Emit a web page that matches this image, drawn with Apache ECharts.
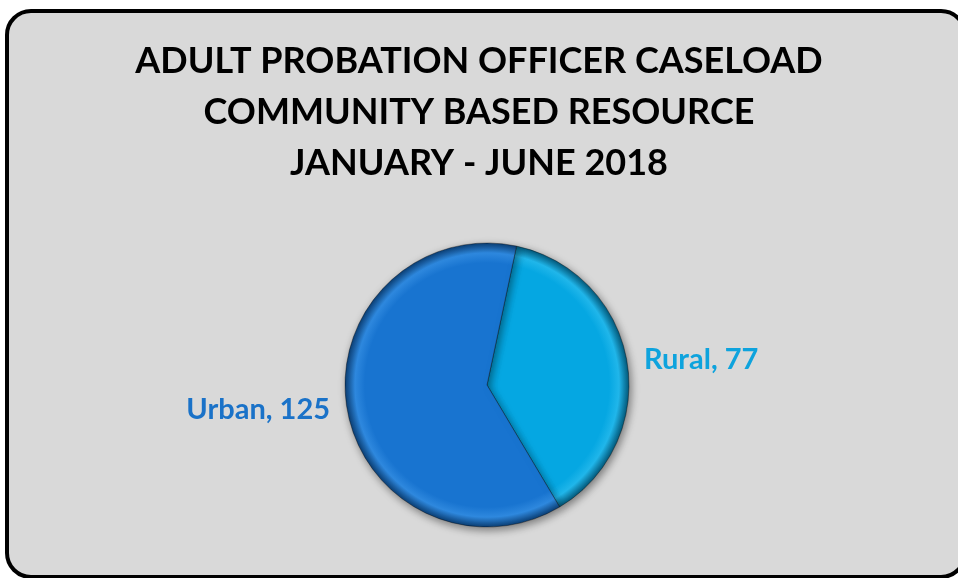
<!DOCTYPE html>
<html><head><meta charset="utf-8">
<script src="https://cdn.jsdelivr.net/npm/echarts@6/dist/echarts.min.js"></script>
<style>html,body{margin:0;padding:0;background:#fff;}#c{width:958px;height:578px;}</style>
</head><body><div id="c"></div>
<script>
const titleLines = ['ADULT PROBATION OFFICER CASELOAD', 'COMMUNITY BASED RESOURCE', 'JANUARY - JUNE 2018'];
const categories = ['Rural', 'Urban'];
const values = [77, 125];
const labelColors = ['#0ea3dd', '#1a72c8'];

const cx = 487, cy = 385, R = 142;
function grad(base, dark, light) {
  return {type: 'radial', x: cx, y: cy, r: R, global: true,
    colorStops: [{offset: 0, color: base}, {offset: 0.86, color: base}, {offset: 0.93, color: light}, {offset: 1, color: dark}]};
}
const shades = [['#05a7e2', '#03587a', '#20b6ea'], ['#1874d0', '#0b3e74', '#2e88de']];

const chart = echarts.init(document.getElementById('c'));
chart.setOption({
  backgroundColor: '#ffffff',
  animation: false,
  graphic: [{
    type: 'rect', z: -10,
    shape: {x: 7, y: 11, width: 958, height: 566, r: 24},
    style: {fill: '#d9d9d9', stroke: '#000', lineWidth: 4}
  }],
  title: {
    text: titleLines.join('\n'),
    left: 'center', top: 31,
    textStyle: {fontFamily: 'Lato', fontWeight: 'bold', fontSize: 36, color: '#000', lineHeight: 51}
  },
  series: [{
    type: 'pie',
    center: [cx, cy],
    radius: R,
    startAngle: 78,
    clockwise: true,
    label: {
      show: true, position: 'outside',
      formatter: p => p.name + ', ' + p.value,
      fontFamily: 'Lato', fontWeight: 'bold', fontSize: 29
    },
    labelLine: {show: false, length: 12, length2: 0},
    itemStyle: {shadowBlur: 8, shadowColor: 'rgba(0,0,0,0.45)', shadowOffsetX: 2, shadowOffsetY: 3,
      borderColor: 'rgba(0,0,0,0.35)', borderWidth: 1},
    emphasis: {disabled: true},
    data: categories.map((c, i) => ({
      name: c, value: values[i],
      itemStyle: {color: grad(shades[i][0], shades[i][1], shades[i][2])},
      label: {color: labelColors[i]}
    }))
  }]
});
</script></body></html>
